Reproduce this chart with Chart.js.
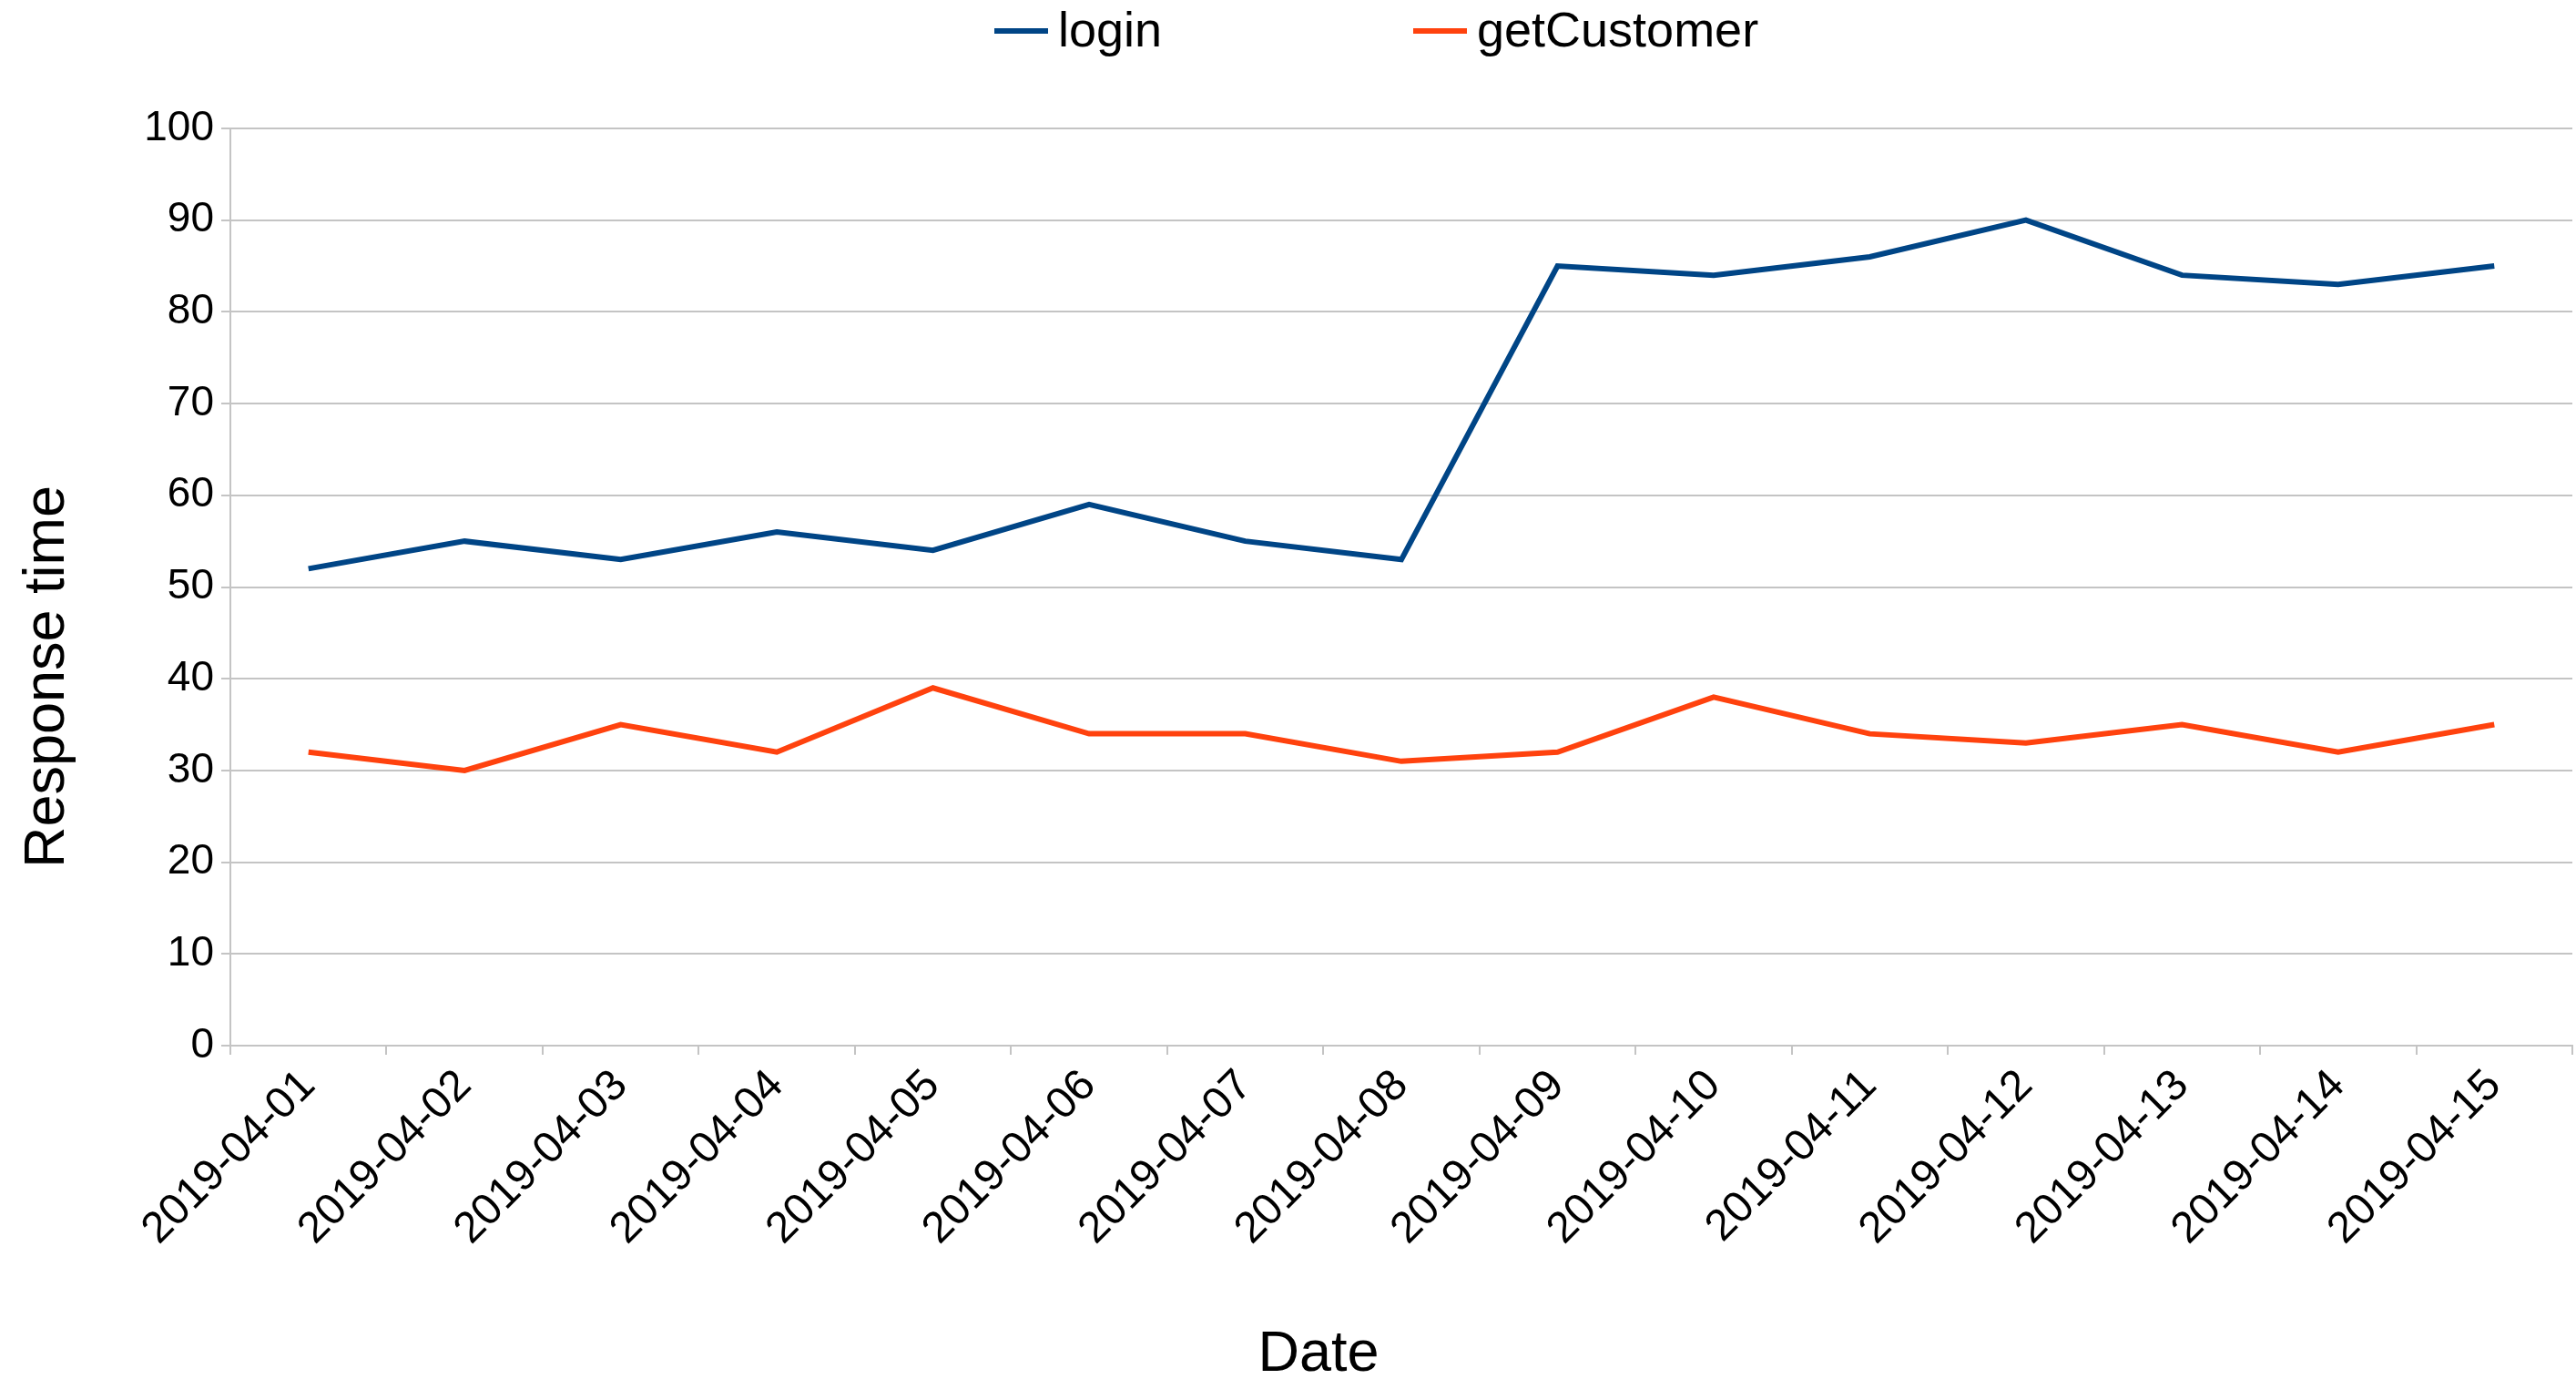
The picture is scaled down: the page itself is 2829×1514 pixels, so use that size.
<!DOCTYPE html>
<html lang="en">
  <head>
    <meta charset="utf-8" />
    <title>Response time</title>
    <script src="https://cdn.jsdelivr.net/npm/chart.js/dist/chart.umd.min.js"></script>
    <style>
      * {
        margin: 0;
        padding: 0;
      }
      body {
        background: #fff;
      }
      .chartBox {
        width: 2829px;
        height: 1514px;
      }
    </style>
  </head>
  <body>
    <div class="chartBox">
      <canvas id="myChart"></canvas>
    </div>

    <script>
      const dates = [
        "2019-04-01", "2019-04-02", "2019-04-03", "2019-04-04", "2019-04-05",
        "2019-04-06", "2019-04-07", "2019-04-08", "2019-04-09", "2019-04-10",
        "2019-04-11", "2019-04-12", "2019-04-13", "2019-04-14", "2019-04-15",
      ];
      const loginValues = [52, 55, 53, 56, 54, 59, 55, 53, 85, 84, 86, 90, 84, 83, 85];
      const getCustomerValues = [32, 30, 35, 32, 39, 34, 34, 31, 32, 38, 34, 33, 35, 32, 35];
      const seriesNames = ["login", "getCustomer"];
      const seriesColors = ["#004586", "#ff420e"];
      const yTicks = [0, 10, 20, 30, 40, 50, 60, 70, 80, 90, 100];
      const xTitle = "Date";
      const yTitle = "Response time";

      const FONT = "'Liberation Sans', Arial, sans-serif";
      const gridColor = "#c4c4c4";

      // legend + axis titles drawn by hand, the original doesn't center them on the plot
      const labelsPlugin = {
        id: "handLabels",
        afterDraw(chart) {
          const ctx = chart.ctx;
          const spots = [1092, 1552]; // left edge of each legend sample
          ctx.save();
          ctx.font = "54px " + FONT;
          ctx.textBaseline = "middle";
          chart.data.datasets.forEach((ds, i) => {
            const x = spots[i];
            ctx.fillStyle = ds.borderColor;
            ctx.fillRect(x, 31, 59, 6);
            ctx.fillStyle = "#000";
            ctx.fillText(ds.label, x + 70, 36);
          });

          ctx.font = "63px " + FONT;
          ctx.textBaseline = "alphabetic";
          ctx.textAlign = "center";
          ctx.fillText(xTitle, 1448, 1505);

          ctx.translate(70, 743);
          ctx.rotate(-Math.PI / 2);
          ctx.fillText(yTitle, 0, 0);
          ctx.restore();
        },
      };

      const data = {
        labels: dates,
        datasets: [
          {
            label: seriesNames[0],
            data: loginValues,
            borderColor: seriesColors[0],
            backgroundColor: seriesColors[0],
          },
          {
            label: seriesNames[1],
            data: getCustomerValues,
            borderColor: seriesColors[1],
            backgroundColor: seriesColors[1],
          },
        ],
      };

      const config = {
        type: "line",
        data: data,
        options: {
          responsive: true,
          maintainAspectRatio: false,
          animation: false,
          layout: {
            padding: { top: 141, right: 4, left: 0, bottom: 0 },
          },
          elements: {
            line: { borderWidth: 6, tension: 0, fill: false },
            point: { radius: 0, hoverRadius: 0 },
          },
          plugins: {
            legend: { display: false },
            tooltip: { enabled: false },
          },
          scales: {
            x: {
              offset: true,
              grid: {
                offset: true,
                // only the outer frame lines show inside the plot
                color: (c) => (c.index === 0 || c.index === dates.length ? gridColor : "transparent"),
                tickColor: gridColor,
                tickLength: 10,
                lineWidth: 2,
              },
              border: { color: gridColor, width: 2 },
              ticks: {
                color: "#000",
                font: { family: FONT, size: 48 },
                maxRotation: 45,
                minRotation: 45,
                autoSkip: false,
                padding: 6,
              },
              afterFit: (scale) => {
                scale.height = 366;
              },
            },
            y: {
              min: 0,
              max: 100,
              afterBuildTicks: (scale) => {
                scale.ticks = yTicks.map((v) => ({ value: v }));
              },
              grid: {
                color: gridColor,
                lineWidth: 2,
                tickLength: 10,
              },
              border: { color: gridColor, width: 2 },
              ticks: {
                color: "#000",
                font: { family: FONT, size: 46 },
                padding: 8,
              },
              afterFit: (scale) => {
                scale.width = 253;
              },
            },
          },
        },
        plugins: [labelsPlugin],
      };

      var myChart = new Chart(document.getElementById("myChart"), config);
    </script>
  </body>
</html>
